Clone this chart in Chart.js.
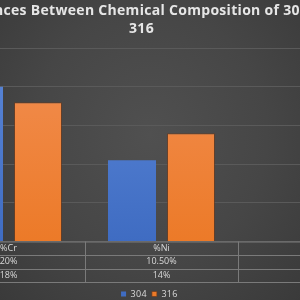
<!DOCTYPE html>
<html>
<head>
<meta charset="utf-8">
<script src="https://cdn.jsdelivr.net/npm/chart.js@4.4.1/dist/chart.umd.min.js"></script>
<style>
  html, body { margin: 0; padding: 0; width: 300px; height: 300px; overflow: hidden; }
  body { position: relative; background: radial-gradient(ellipse at 50% 45%, #505050 0%, #464646 55%, #3a3a3a 100%); }
  #wrap { position: absolute; left: -108px; top: 0; width: 509px; height: 300px; }
</style>
</head>
<body>
<div id="wrap"><canvas id="chart"></canvas></div>
<script>
// Chart data (the chart is cropped: left and right edges fall outside the view)
const titleLines = ['Differences Between Chemical Composition of 304 and', '316'];
const categories = ['%Cr', '%Ni', '%Mo'];
const seriesNames = ['304', '316'];
const values304 = [20, 10.5, 0];
const values316 = [18, 14, 2];
const table304 = ['20%', '10.50%', '0%'];
const table316 = ['18%', '14%', '2%'];
const yMin = 0;
const yMax = 25;
const yStep = 5;

const BLUE = '#4472c4';
const ORANGE = '#ed7d31';
const TEXT = '#d9d9d9';
const LINES = '#7a7a7a';

// Vertical gradient for bar fills, like the Excel style
function barFill(top, bottom) {
    return function (context) {
        const area = context.chart.chartArea;
        if (!area) return bottom;
        const g = context.chart.ctx.createLinearGradient(0, area.top, 0, area.bottom);
        g.addColorStop(0, top);
        g.addColorStop(1, bottom);
        return g;
    };
}

// Spaced-out lettering for title and legend (drawn before the datasets)
const spacingPlugin = {
    id: 'spacing',
    afterLayout(chart) {
        // nudge the legend, the Excel legend sits a bit right of centre and lower
        const lg = chart.legend;
        lg.left += 7;
        lg.right += 7;
        lg.top += 2.5;
        lg.bottom += 2.5;
    },
    beforeDraw(chart) {
        chart.ctx.letterSpacing = '0.3px';
    },
    beforeDatasetsDraw(chart) {
        chart.ctx.letterSpacing = '0px';
    }
};

// Draws the Excel-like data table under the plot, aligned to the x scale
const dataTablePlugin = {
    id: 'dataTable',
    afterDraw(chart) {
        const ctx = chart.ctx;
        const x = chart.scales.x;
        const y = chart.scales.y;
        const area = chart.chartArea;
        const rowH = (x.bottom - x.top) / 3;
        const catW = x.width / categories.length;
        const left = y.left;

        ctx.save();
        ctx.strokeStyle = LINES;
        ctx.lineWidth = 1;
        ctx.beginPath();
        // horizontal lines
        ctx.moveTo(area.left, x.top + 0.5);
        ctx.lineTo(area.right, x.top + 0.5);
        for (let r = 1; r <= 3; r++) {
            const yy = Math.round(x.top + r * rowH) + 0.5;
            ctx.moveTo(left, yy);
            ctx.lineTo(area.right, yy);
        }
        // vertical lines
        for (let i = 0; i <= categories.length; i++) {
            const xx = Math.round(area.left + i * catW) + 0.5;
            ctx.moveTo(xx, x.top);
            ctx.lineTo(xx, x.bottom);
        }
        ctx.moveTo(left + 0.5, x.top + rowH);
        ctx.lineTo(left + 0.5, x.bottom);
        ctx.stroke();

        ctx.fillStyle = TEXT;
        ctx.font = '9px "Open Sans", sans-serif';
        ctx.textAlign = 'center';
        ctx.textBaseline = 'middle';
        const rows = [categories, table304, table316];
        rows.forEach((row, r) => {
            const cy = x.top + (r + 0.5) * rowH;
            row.forEach((txt, i) => {
                ctx.fillText(txt, x.getPixelForValue(i), cy);
            });
        });

        // row headers with legend keys
        ctx.textAlign = 'left';
        [BLUE, ORANGE].forEach((col, r) => {
            const cy = x.top + (r + 1.5) * rowH;
            ctx.fillStyle = col;
            ctx.fillRect(left + 4, cy - 3, 6, 6);
            ctx.fillStyle = TEXT;
            ctx.fillText(seriesNames[r], left + 13, cy);
        });
        ctx.restore();
    }
};

new Chart(document.getElementById('chart'), {
    type: 'bar',
    data: {
        labels: categories,
        datasets: [
            {
                label: seriesNames[0],
                data: values304,
                backgroundColor: barFill('#5b87d8', '#3f6cc2'),
                borderWidth: 0
            },
            {
                label: seriesNames[1],
                data: values316,
                backgroundColor: barFill('#f28e52', '#ec7a28'),
                borderColor: 'rgba(110, 60, 30, 0.7)',
                borderWidth: 1
            }
        ]
    },
    options: {
        responsive: true,
        maintainAspectRatio: false,
        animation: false,
        layout: {
            padding: { left: 0, right: 10, top: 0, bottom: -6 }
        },
        datasets: {
            bar: {
                categoryPercentage: 0.771,
                barPercentage: 0.814
            }
        },
        scales: {
            x: {
                grid: { display: false },
                border: { display: false },
                ticks: { display: false },
                afterFit(scale) { scale.height = 40.5; }
            },
            y: {
                min: yMin,
                max: yMax,
                ticks: { display: false, stepSize: yStep },
                grid: { color: '#5a5a5a', drawTicks: false },
                border: { display: false },
                afterFit(scale) { scale.width = 40; }
            }
        },
        plugins: {
            title: {
                display: true,
                text: titleLines,
                color: '#e6e6e6',
                font: { family: '"Open Sans", sans-serif', size: 14, weight: 'bold', lineHeight: 1.3 },
                padding: { top: 2, bottom: 9.6 }
            },
            legend: {
                position: 'bottom',
                labels: {
                    color: TEXT,
                    font: { family: '"Open Sans", sans-serif', size: 9 },
                    boxWidth: 5,
                    boxHeight: 5,
                    padding: 5
                }
            },
            tooltip: { enabled: false }
        }
    },
    plugins: [spacingPlugin, dataTablePlugin]
});
</script>
</body>
</html>
